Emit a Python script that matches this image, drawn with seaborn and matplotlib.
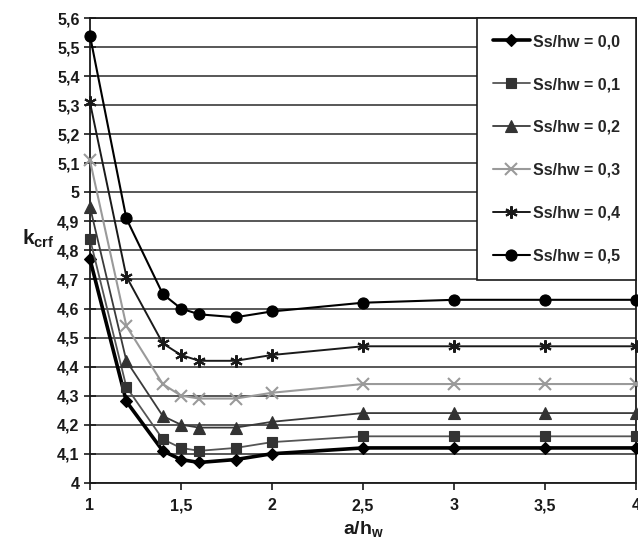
import matplotlib
matplotlib.use("Agg")
import matplotlib.pyplot as plt
import seaborn as sns
import pandas as pd
from matplotlib.ticker import FuncFormatter, FixedLocator

# ---- data ----
a_hw = [1.0, 1.2, 1.4, 1.5, 1.6, 1.8, 2.0, 2.5, 3.0, 3.5, 4.0]
ss_values = ["0,0", "0,1", "0,2", "0,3", "0,4", "0,5"]
k_00 = [4.77, 4.28, 4.11, 4.08, 4.07, 4.08, 4.10, 4.12, 4.12, 4.12, 4.12]
k_01 = [4.84, 4.33, 4.15, 4.12, 4.11, 4.12, 4.14, 4.16, 4.16, 4.16, 4.16]
k_02 = [4.95, 4.42, 4.23, 4.20, 4.19, 4.19, 4.21, 4.24, 4.24, 4.24, 4.24]
k_03 = [5.11, 4.54, 4.34, 4.30, 4.29, 4.29, 4.31, 4.34, 4.34, 4.34, 4.34]
k_04 = [5.31, 4.71, 4.48, 4.44, 4.42, 4.42, 4.44, 4.47, 4.47, 4.47, 4.47]
k_05 = [5.54, 4.91, 4.65, 4.60, 4.58, 4.57, 4.59, 4.62, 4.63, 4.63, 4.63]
series = [k_00, k_01, k_02, k_03, k_04, k_05]
x_ticks = [1, 1.5, 2, 2.5, 3, 3.5, 4]
y_ticks = [4.0, 4.1, 4.2, 4.3, 4.4, 4.5, 4.6, 4.7, 4.8, 4.9, 5.0, 5.1, 5.2, 5.3, 5.4, 5.5, 5.6]

# ---- styles ----
styles = [
    dict(color="#000000", mfc="#000000", marker="D", ms=6, lw=2.6),
    dict(color="#555555", mfc="#333333", marker="s", ms=7.5, lw=1.3),
    dict(color="#3a3a3a", mfc="#333333", marker="^", ms=8, lw=1.3),
    dict(color="#9a9a9a", mfc="#9a9a9a", marker="x", ms=8, lw=1.5),
    dict(color="#1a1a1a", mfc="#1a1a1a", marker=(6, 2, 0), ms=9, lw=1.4),
    dict(color="#000000", mfc="#000000", marker="o", ms=8, lw=1.5),
]

sns.set_theme(style="white")
plt.rcParams["font.family"] = ["Liberation Sans", "DejaVu Sans"]
plt.rcParams["mathtext.fontset"] = "custom"
plt.rcParams["mathtext.rm"] = "Liberation Sans:bold"
plt.rcParams["mathtext.bf"] = "Liberation Sans:bold"
plt.rcParams["mathtext.it"] = "Liberation Sans:bold"
plt.rcParams["mathtext.default"] = "bf"

fig = plt.figure(figsize=(6.38, 5.48), dpi=100)
ax = fig.add_axes([0.141, 0.119, 0.856, 0.848])

ax.yaxis.grid(True, color="#2a2a2a", lw=1.1)
ax.set_axisbelow(True)

for ss, vals, st in zip(ss_values, series, styles):
    df = pd.DataFrame({"a": a_hw, "k": vals})
    sns.lineplot(data=df, x="a", y="k", ax=ax, color=st["color"], lw=st["lw"],
                 marker=st["marker"], markersize=st["ms"],
                 markerfacecolor=st["mfc"], markeredgecolor=st["mfc"],
                 markeredgewidth=1.5 if st["marker"] in ("x", (6, 2, 0)) else 0.8,
                 label=f"Ss/hw = {ss}", clip_on=False, zorder=3)

ax.set_xlim(1, 4)
ax.set_ylim(4, 5.6)
ax.xaxis.set_major_locator(FixedLocator(x_ticks))
ax.yaxis.set_major_locator(FixedLocator(y_ticks))
fmt = FuncFormatter(lambda v, p: f"{round(v, 1):g}".replace(".", ","))
ax.xaxis.set_major_formatter(fmt)
ax.yaxis.set_major_formatter(fmt)

for s in ["left", "bottom", "right", "top"]:
    ax.spines[s].set_visible(True)
    ax.spines[s].set_color("#1a1a1a")
    ax.spines[s].set_linewidth(1.3)

ax.tick_params(axis="y", direction="inout", length=9, width=1.2, color="#1a1a1a",
               labelsize=11.5, pad=3, left=True)
ax.tick_params(axis="x", direction="out", length=5, width=1.2, color="#1a1a1a",
               labelsize=11.5, pad=6, bottom=True)
for lab in ax.get_xticklabels() + ax.get_yticklabels():
    lab.set_fontweight("bold")
    lab.set_color("#1a1a1a")

ax.set_xlabel("a/h$_{w}$", fontsize=14, fontweight="bold", labelpad=4, color="#1a1a1a")
ax.set_ylabel("k$_{crf}$", fontsize=15, fontweight="bold", rotation=0,
              labelpad=10, color="#1a1a1a")
ax.yaxis.set_label_coords(-0.095, 0.5)

leg = ax.legend(loc="upper right", bbox_to_anchor=(1.0, 1.0), borderaxespad=0,
                frameon=True, fancybox=False, framealpha=1, edgecolor="#1a1a1a",
                prop={"weight": "bold", "size": 11.5}, labelspacing=1.75,
                handlelength=2.3, handletextpad=0.2, borderpad=1.0)
leg.get_frame().set_linewidth(1.2)
leg.set_zorder(5)

fig.savefig("out.png", dpi=100, facecolor="white")
